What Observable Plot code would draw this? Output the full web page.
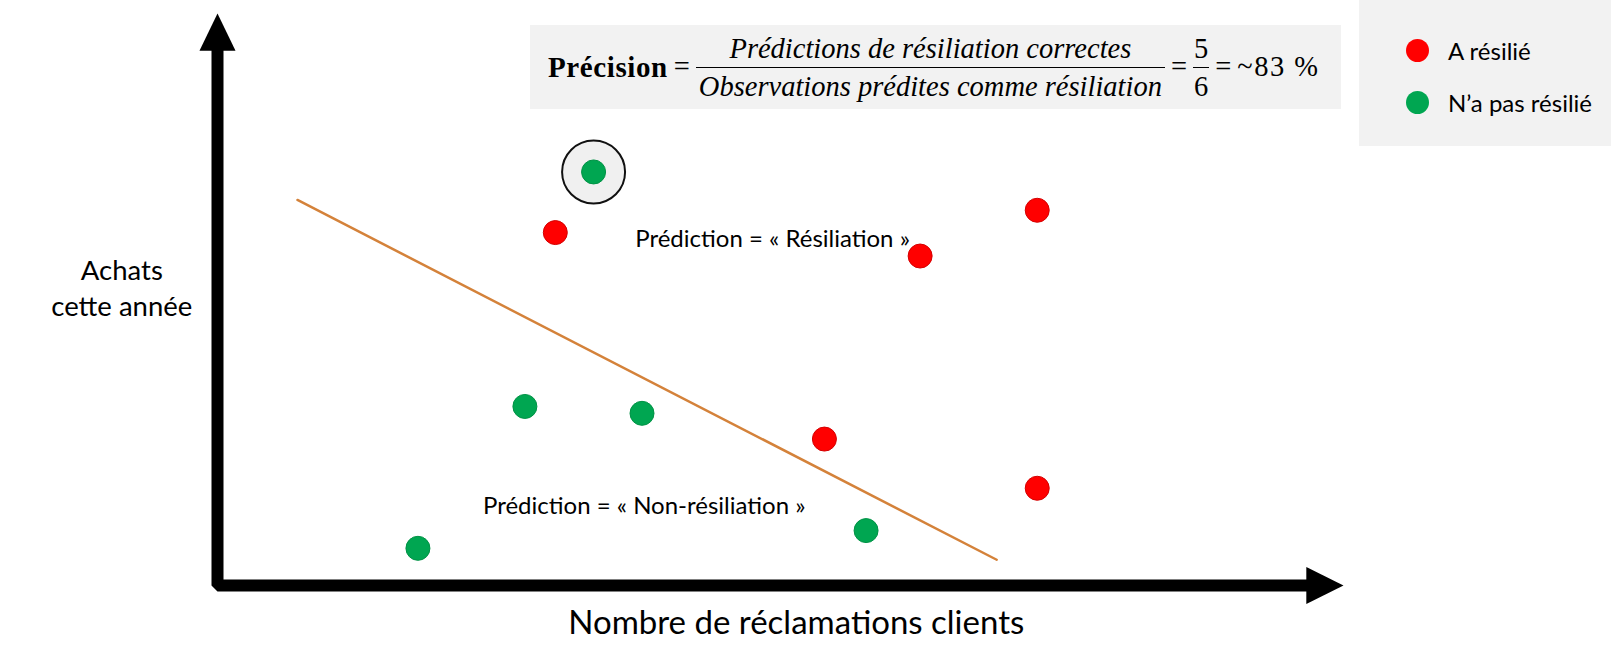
<!DOCTYPE html>
<html>
<head>
<meta charset="utf-8">
<script src="https://cdn.jsdelivr.net/npm/d3@7"></script>
<script src="https://cdn.jsdelivr.net/npm/@observablehq/plot@0.6"></script>
<style>
  html, body { margin: 0; padding: 0; background: #fff; }
  body { width: 1611px; height: 656px; position: relative; overflow: hidden; font-family: Lato, "Open Sans", sans-serif; }
  #chart { position: absolute; left: 0; top: 0; }
  #formula {
    position: absolute; left: 530px; top: 25px; width: 811px; height: 84px;
    background: #f2f2f2; display: flex; align-items: center; box-sizing: border-box; padding-left: 18px;
    font-family: "Liberation Serif", "DejaVu Serif", serif; font-size: 28.5px; color: #000;
    white-space: nowrap;
  }
  #formula > * { flex: 0 0 auto; white-space: nowrap; }
  #formula .eq { margin: 0 6px; font-style: normal; }
  #formula .frac { display: inline-flex; flex-direction: column; align-items: stretch; text-align: center; }
  #formula .frac > span { display: block; padding: 0 3px; line-height: 37px; white-space: nowrap; }
  #formula .frac > span.num { border-bottom: 1.6px solid #000; }
  #formula .small > span { padding: 0 1px; }
  #formula .it { font-style: italic; }
  #formula b { font-weight: bold; font-size: 29px; letter-spacing: 0.6px; }
  #formula .pct { letter-spacing: 1.5px; }
  #legend {
    position: absolute; left: 1359px; top: 0; width: 252px; height: 146px; background: #f2f2f2;
  }
  #legend .item { position: absolute; left: 47px; display: flex; align-items: center; font-size: 24px; color: #000; white-space: nowrap; }
  #legend .sw { width: 23px; height: 23px; border-radius: 50%; margin-right: 19px; }
</style>
</head>
<body>
<div id="chart"></div>
<div id="formula"></div>
<div id="legend"></div>
<script>
// ---- data (abstract units: 0..100 on each axis) ----
const complaints = [33.4, 30.0, 62.4, 72.8, 27.3, 37.7, 53.9, 72.8, 57.6, 17.8];
const purchases  = [72.3, 61.7, 57.6, 65.6, 31.3, 30.1, 25.6, 17.0, 9.6, 6.5];
const statuses   = ["N’a pas résilié", "A résilié", "A résilié", "A résilié", "N’a pas résilié",
                    "N’a pas résilié", "A résilié", "A résilié", "N’a pas résilié", "N’a pas résilié"];
const highlightedIndex = 0;
const categories = ["A résilié", "N’a pas résilié"];
const categoryColors = ["#ff0000", "#00a651"];

const boundaryX = [7.1, 69.2];
const boundaryY = [67.4, 4.5];

const regionLabels = ["Prédiction = « Résiliation »", "Prédiction = « Non-résiliation »"];
const regionLabelX = [49.3, 37.9];
const regionLabelY = [60.5, 13.9];

const xAxisTitle = "Nombre de réclamations clients";
const yAxisTitle = "Achats\ncette année";

const formulaLabel = "Précision";
const formulaNumerator = "Prédictions de résiliation correctes";
const formulaDenominator = "Observations prédites comme résiliation";
const correctCount = 5;
const predictedCount = 6;
const precisionText = "~83 %";

// ---- build tables ----
const points = complaints.map((x, i) => ({x, y: purchases[i], status: statuses[i]}));
const highlighted = [points[highlightedIndex]];
const boundary = boundaryX.map((x, i) => ({x, y: boundaryY[i]}));
const labels = regionLabels.map((t, i) => ({text: t, x: regionLabelX[i], y: regionLabelY[i]}));
const colorOf = Object.fromEntries(categories.map((c, i) => [c, categoryColors[i]]));
const strokeOf = {"A résilié": "#d40000", "N’a pas résilié": "#009245"};

// axis geometry in data units
const axisPath = [{x: 0, y: 94}, {x: 0, y: 0}, {x: 96.8, y: 0}];
const yHead = [{x: -1.6, y: 93.5}, {x: 0, y: 100}, {x: 1.6, y: 93.5}];
const xHead = [{x: 96.7, y: 3.25}, {x: 100, y: 0}, {x: 96.7, y: -3.25}];

const plot = Plot.plot({
  width: 1611,
  height: 656,
  marginLeft: 217,
  marginRight: 268,
  marginTop: 13,
  marginBottom: 71,
  x: {domain: [0, 100], axis: null},
  y: {domain: [0, 100], axis: null},
  style: {fontFamily: "Lato, 'Open Sans', sans-serif", background: "transparent", overflow: "visible"},
  marks: [
    Plot.line(boundary, {x: "x", y: "y", stroke: "#d4823a", strokeWidth: 2.5}),
    Plot.dot(highlighted, {x: "x", y: "y", r: 31.5, fill: "#f0f0f0", stroke: "#111", strokeWidth: 2}),
    Plot.dot(points, {x: "x", y: "y", r: 12, fill: d => colorOf[d.status], stroke: d => strokeOf[d.status], strokeWidth: 1}),
    Plot.text(labels, {x: "x", y: "y", text: "text", fontSize: 24, fill: "#000"}),
    Plot.line(axisPath, {x: "x", y: "y", stroke: "#000", strokeWidth: 12, strokeLinejoin: "miter", strokeLinecap: "butt"}),
    Plot.line(yHead, {x: "x", y: "y", fill: "#000", stroke: "none"}),
    Plot.line(xHead, {x: "x", y: "y", fill: "#000", stroke: "none"}),
    Plot.text([yAxisTitle], {x: -8.5, y: 52.2, text: d => d, fontSize: 27.5, lineHeight: 1.3, fill: "#000"}),
    Plot.text([xAxisTitle], {x: 51.4, y: -6.7, text: d => d, fontSize: 33, fill: "#000"})
  ]
});
document.getElementById("chart").appendChild(plot);

// ---- formula box ----
const f = document.getElementById("formula");
f.innerHTML =
  `<b>${formulaLabel}</b><span class="eq">=</span>` +
  `<span class="frac it"><span class="num">${formulaNumerator}</span><span>${formulaDenominator}</span></span>` +
  `<span class="eq">=</span>` +
  `<span class="frac small"><span class="num">${correctCount}</span><span>${predictedCount}</span></span>` +
  `<span class="eq">=</span><span class="pct">${precisionText}</span>`;

// ---- legend ----
const lg = document.getElementById("legend");
categories.forEach((c, i) => {
  const it = document.createElement("div");
  it.className = "item";
  it.style.top = (36 + i * 52) + "px";
  it.innerHTML = `<span class="sw" style="background:${categoryColors[i]}"></span><span>${c}</span>`;
  lg.appendChild(it);
});
</script>
</body>
</html>
